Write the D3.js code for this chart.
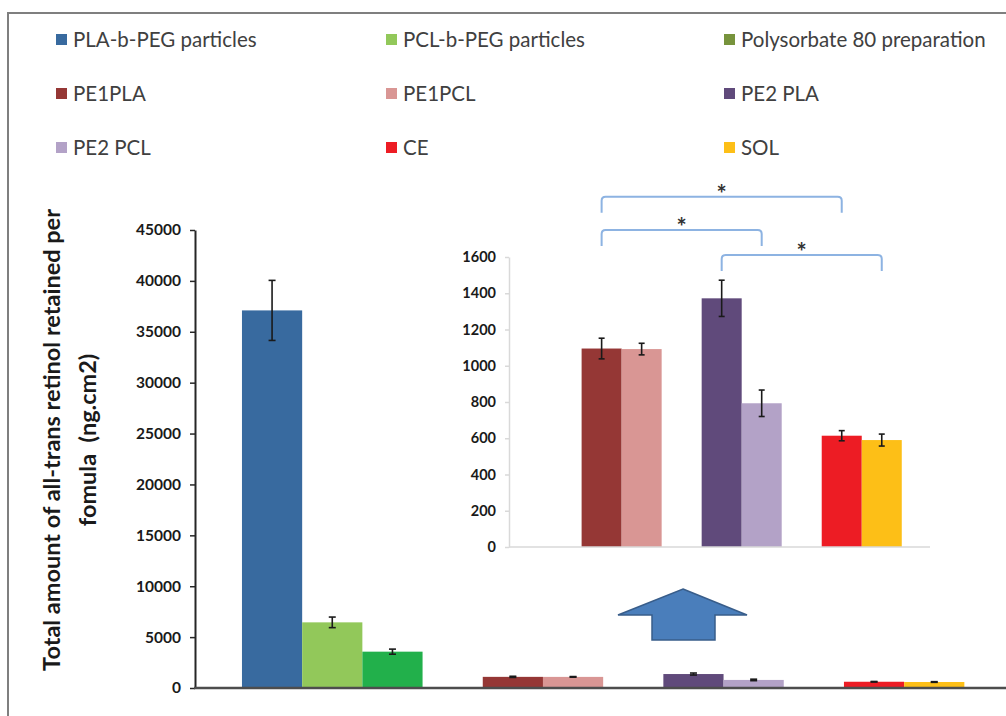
<!DOCTYPE html>
<html>
<head>
<meta charset="utf-8">
<script src="https://cdn.jsdelivr.net/npm/d3@7"></script>
<style>
  html, body { margin: 0; padding: 0; background: #fff; }
  svg { display: block; font-family: Lato, "Open Sans", sans-serif; }
</style>
</head>
<body>
<svg id="chart" width="1006" height="716"></svg>
<script>
// Formulations, in legend order
const categories = [
  "PLA-b-PEG particles", "PCL-b-PEG particles", "Polysorbate 80 preparation",
  "PE1PLA", "PE1PCL", "PE2 PLA",
  "PE2 PCL", "CE", "SOL"
];
// Total all-trans retinol retained (ng.cm2), mean and error
const values = [37100, 6450, 3570, 1095, 1092, 1372, 793, 614, 590];
const errors = [2950, 520, 250, 57, 32, 100, 73, 28, 33];
// Bar fills and legend swatches
const barColors = ["#386a9f", "#92c85a", "#22b04b", "#953735", "#d99694", "#604a7b", "#b3a2c7", "#ed1c24", "#fdbf17"];
const legendColors = ["#386a9f", "#92c85a", "#77933c", "#953735", "#d99694", "#604a7b", "#b3a2c7", "#ed1c24", "#fdbf17"];
// Bar clusters on the category axis (indices into categories)
const groups = [[0, 1, 2], [3, 4], [5, 6], [7, 8]];
// Clusters repeated in the magnified inset
const insetGroups = [[3, 4], [5, 6], [7, 8]];
// Axis ticks
const mainTicks = [0, 5000, 10000, 15000, 20000, 25000, 30000, 35000, 40000, 45000];
const insetTicks = [0, 200, 400, 600, 800, 1000, 1200, 1400, 1600];
// Pairwise significance marks (inset): from bar, to bar, height in inset units
const comparisons = [
  { from: "PE1PLA", to: "CE", level: 1933, label: "*" },
  { from: "PE1PLA", to: "PE2 PCL", level: 1749, label: "*" },
  { from: "PE2 PLA", to: "SOL", level: 1611, label: "*" }
];
const yTitle = ["Total amount of all-trans retinol retained per", "fomula  (ng.cm2)"];

const rows = categories.map((c, i) => ({ name: c, value: values[i], err: errors[i], color: barColors[i] }));

const svg = d3.select("#chart");
const fmt = d3.format("d");

// Outer frame
svg.append("path")
  .attr("d", "M8,716 V13 H1006")
  .attr("fill", "none").attr("stroke", "#7f7f7f").attr("stroke-width", 2);

// ---------- Legend ----------
const legend = svg.append("g");
const legCols = [56, 386, 724], legRows = [40, 94, 148];
categories.forEach((c, i) => {
  const g = legend.append("g")
    .attr("transform", `translate(${legCols[i % 3]},${legRows[Math.floor(i / 3)]})`);
  g.append("rect").attr("x", 0).attr("y", -6).attr("width", 11).attr("height", 11)
    .attr("fill", legendColors[i]);
  g.append("text").attr("x", 17).attr("y", 0).attr("dy", "0.35em")
    .attr("font-size", 20.5).attr("fill", "#404040").text(c);
});

// ---------- Main chart ----------
// One slot per bar, with an empty slot between clusters
const slots = [];
groups.forEach((g, gi) => {
  if (gi > 0) slots.push("gap" + gi);
  g.forEach(i => slots.push(categories[i]));
});

const x = d3.scaleBand().domain(slots).range([195, 1006])
  .paddingInner(0).paddingOuter(0.736).align(0.53);
const y = d3.scaleLinear().domain([0, 45000]).range([688, 230]);

const main = svg.append("g");

main.selectAll("rect.bar").data(rows).join("rect")
  .attr("class", "bar")
  .attr("x", d => x(d.name)).attr("width", x.bandwidth())
  .attr("y", d => y(d.value)).attr("height", d => y(0) - y(d.value))
  .attr("fill", d => d.color);

const mainErr = main.selectAll("g.err").data(rows).join("g").attr("class", "err")
  .attr("stroke", "#1a1a1a").attr("stroke-width", 1.6);
mainErr.append("line")
  .attr("x1", d => x(d.name) + x.bandwidth() / 2).attr("x2", d => x(d.name) + x.bandwidth() / 2)
  .attr("y1", d => y(d.value + d.err)).attr("y2", d => y(d.value - d.err));
[1, -1].forEach(s => mainErr.append("line")
  .attr("x1", d => x(d.name) + x.bandwidth() / 2 - 3.5).attr("x2", d => x(d.name) + x.bandwidth() / 2 + 3.5)
  .attr("y1", d => y(d.value + s * d.err)).attr("y2", d => y(d.value + s * d.err)));

const yAxis = main.append("g").attr("transform", "translate(195,0)")
  .call(d3.axisLeft(y).tickValues(mainTicks).tickFormat(fmt).tickSize(5).tickSizeOuter(0).tickPadding(9));
yAxis.select(".domain").attr("stroke", "#262626").attr("stroke-width", 2);
yAxis.selectAll(".tick line").attr("stroke", "#262626").attr("stroke-width", 1.5);
yAxis.selectAll(".tick text").attr("font-size", 15.5).attr("font-weight", "bold")
  .attr("fill", "#1a1a1a").attr("font-family", "Lato, sans-serif");

main.append("line").attr("x1", 194).attr("x2", 1006).attr("y1", y(0)).attr("y2", y(0))
  .attr("stroke", "#4d4d4d").attr("stroke-width", 2.5);

// Y axis title (two lines)
const title = svg.append("text")
  .attr("transform", "translate(0,440) rotate(-90)")
  .attr("text-anchor", "middle").attr("font-size", 23.5).attr("font-weight", "bold")
  .attr("fill", "#1a1a1a").style("white-space", "pre");
yTitle.forEach((t, i) => title.append("tspan").attr("x", 0).attr("y", 51 + i * 36)
  .attr("dominant-baseline", "central").text(t));

// ---------- Inset (magnified low-value clusters) ----------
const gx = d3.scaleBand().domain(insetGroups.map((g, i) => i)).range([509, 930])
  .paddingInner(1 / 3).paddingOuter(0.42).align(0.72);
const iy = d3.scaleLinear().domain([0, 1600]).range([547, 257]);
const insetRows = insetGroups.flatMap((g, gi) => g.map((idx, k) => ({ ...rows[idx], gi, k, n: g.length })));
const ix = d => gx(d.gi) + d.k * gx.bandwidth() / d.n;
const ibw = gx.bandwidth() / 2;
const inset = svg.append("g");

inset.selectAll("rect").data(insetRows).join("rect")
  .attr("x", ix).attr("width", ibw)
  .attr("y", d => iy(d.value)).attr("height", d => iy(0) - iy(d.value))
  .attr("fill", d => d.color);

const insetErr = inset.selectAll("g.err").data(insetRows).join("g").attr("class", "err")
  .attr("stroke", "#1a1a1a").attr("stroke-width", 1.6);
insetErr.append("line")
  .attr("x1", d => ix(d) + ibw / 2).attr("x2", d => ix(d) + ibw / 2)
  .attr("y1", d => iy(d.value + d.err)).attr("y2", d => iy(d.value - d.err));
[1, -1].forEach(s => insetErr.append("line")
  .attr("x1", d => ix(d) + ibw / 2 - 3).attr("x2", d => ix(d) + ibw / 2 + 3)
  .attr("y1", d => iy(d.value + s * d.err)).attr("y2", d => iy(d.value + s * d.err)));

const iAxis = inset.append("g").attr("transform", "translate(509,0)")
  .call(d3.axisLeft(iy).tickValues(insetTicks).tickFormat(fmt).tickSize(4).tickSizeOuter(0).tickPadding(9));
iAxis.select(".domain").attr("stroke", "#d9d9d9").attr("stroke-width", 1.5);
iAxis.selectAll(".tick line").attr("stroke", "#d9d9d9").attr("stroke-width", 1.5);
iAxis.selectAll(".tick text").attr("font-size", 14.5).attr("font-weight", "bold")
  .attr("fill", "#1a1a1a").attr("font-family", "Lato, sans-serif");
inset.append("line").attr("x1", 509).attr("x2", 930).attr("y1", iy(0)).attr("y2", iy(0))
  .attr("stroke", "#d9d9d9").attr("stroke-width", 1.5);

// Significance brackets
const centre = name => {
  const d = insetRows.find(r => r.name === name);
  return ix(d) + ibw / 2;
};
comparisons.forEach(c => {
  const x1 = centre(c.from), x2 = centre(c.to), yy = iy(c.level), leg = 16, r = 4;
  inset.append("path")
    .attr("d", `M${x1},${yy + leg} V${yy + r} Q${x1},${yy} ${x1 + r},${yy} H${x2 - r} Q${x2},${yy} ${x2},${yy + r} V${yy + leg}`)
    .attr("fill", "none").attr("stroke", "#8db3e2").attr("stroke-width", 2);
  inset.append("text").attr("x", (x1 + x2) / 2).attr("y", yy - 8).attr("dy", "0.6em")
    .attr("text-anchor", "middle").attr("font-size", 24).attr("font-weight", "bold")
    .attr("fill", "#333").text(c.label);
});

// Block arrow pointing from the low clusters up to the inset
svg.append("path")
  .attr("d", "M683,589 L747,615 L715,615 L715,640 L652,640 L652,615 L618,615 Z")
  .attr("fill", "#4a7ebb").attr("stroke", "#385d8a").attr("stroke-width", 1.5);
</script>
</body>
</html>
